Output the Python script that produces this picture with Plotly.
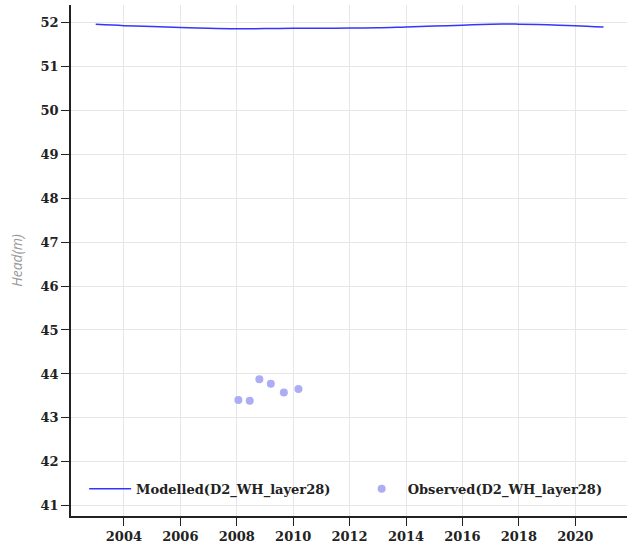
import plotly.graph_objects as go

model_dates = ["2003-01-01", "2004-01-01", "2005-01-01", "2006-01-01", "2007-01-01", "2008-01-01",
               "2009-01-01", "2010-01-01", "2011-01-01", "2012-01-01", "2013-01-01", "2014-01-01",
               "2015-01-01", "2016-01-01", "2017-01-01", "2017-06-01", "2018-01-01", "2019-01-01",
               "2020-01-01", "2021-01-01"]
model_head = [51.95, 51.92, 51.90, 51.88, 51.86, 51.85, 51.855, 51.86, 51.86, 51.865, 51.87, 51.89,
              51.91, 51.93, 51.955, 51.96, 51.955, 51.94, 51.92, 51.89]

obs_dates = ["2008-01-22", "2008-06-17", "2008-10-20", "2009-03-17", "2009-09-02", "2010-03-10"]
obs_head = [43.41, 43.39, 43.88, 43.78, 43.58, 43.66]

font_family = "DejaVu Serif"
legend_font = dict(family=font_family, size=13, color="#222", weight="bold")

fig = go.Figure()
fig.add_trace(go.Scatter(x=model_dates, y=model_head, mode="lines",
                         line=dict(color="#3535ff", width=1.5, shape="spline"),
                         name="Modelled(D2_WH_layer28)", legend="legend"))
fig.add_trace(go.Scatter(x=obs_dates, y=obs_head, mode="markers",
                         marker=dict(color="#adadf5", size=8),
                         name="Observed(D2_WH_layer28)", legend="legend2"))

fig.update_layout(
    width=628, height=553,
    margin=dict(l=71, r=1, t=5, b=37),
    paper_bgcolor="white", plot_bgcolor="white",
    font=dict(family=font_family, size=13, color="#222"),
    showlegend=True,
    legend=dict(x=0.0236, y=0.053, xanchor="left", yanchor="middle", font=legend_font,
                bgcolor="rgba(0,0,0,0)", itemwidth=42),
    legend2=dict(x=0.512, y=0.053, xanchor="left", yanchor="middle", font=legend_font,
                 bgcolor="rgba(0,0,0,0)", itemwidth=42),
    xaxis=dict(range=["2002-02-15", "2021-11-01"], showgrid=True, gridcolor="#e6e6e6",
               dtick="M24", tick0="2004-01-01", tickformat="%Y", automargin=False,
               showline=True, linecolor="#222", linewidth=1.5, ticks="outside", ticklen=8, tickcolor="#222",
               tickfont=dict(family=font_family, size=13, weight="bold"), zeroline=False),
    yaxis=dict(range=[40.77, 52.39], showgrid=True, gridcolor="#e6e6e6", dtick=1, automargin=False,
               showline=True, linecolor="#222", linewidth=1.5, ticks="outside", ticklen=8, tickcolor="#222",
               tickfont=dict(family=font_family, size=13, weight="bold"), zeroline=False,
               title=dict(text="<i>Head(m)</i>", font=dict(family="Open Sans", size=14, color="#999"), standoff=15)),
)

fig.write_html("out.html", config={"displayModeBar": False},
               post_script="document.body.style.margin='0';")
